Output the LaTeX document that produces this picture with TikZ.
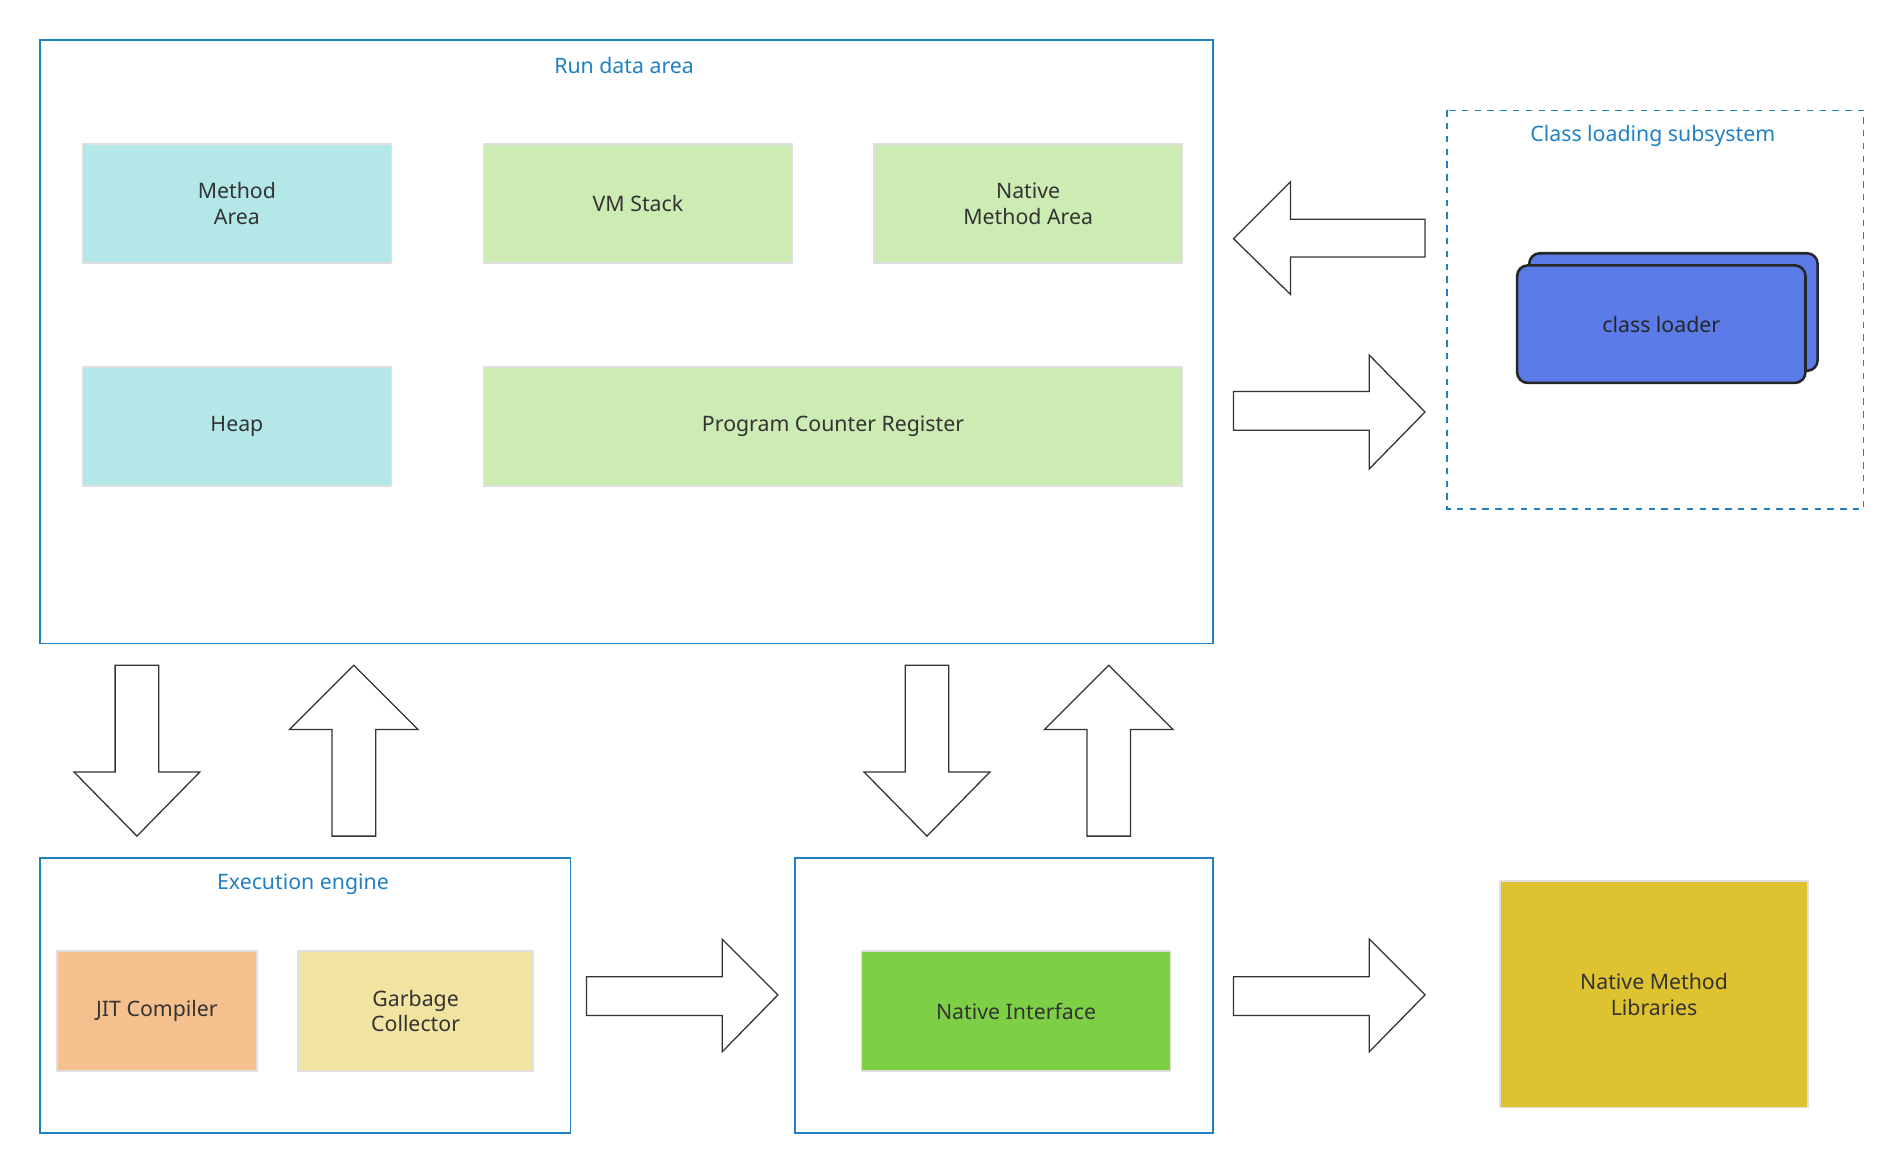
\documentclass[tikz,border=0pt]{standalone}
\usepackage{fontspec}
\setmainfont{Noto Sans}
\begin{document}
\begin{tikzpicture}[x=0.02cm,y=-0.02cm,
  font=\fontsize{10}{12}\selectfont,
  blu/.style={draw=frameblue,line width=0.7pt},
  ttl/.style={text=frameblue,anchor=center},
  box/.style={draw=black!12,line width=0.8pt,text=black!80,align=center},
  arr/.style={draw=black!80,fill=white,line width=0.6pt,line join=miter}]
\definecolor{frameblue}{HTML}{1F80C4}
\definecolor{cyanb}{HTML}{B4E8E8}
\definecolor{greenb}{HTML}{CDECB4}
\definecolor{loader}{HTML}{5B7BE8}
\definecolor{jit}{HTML}{F4C08E}
\definecolor{gc}{HTML}{F1E3A0}
\definecolor{ni}{HTML}{7DD045}
\definecolor{nml}{HTML}{DFC22F}
\useasboundingbox (0,0) rectangle (1568,965);
% Run data area
\draw[blu] (33,33) rectangle (1001,531);
\node[ttl] (rda) at (515,54) {Run data area};
\node[box,fill=cyanb,minimum width=5.1cm,minimum height=1.96cm] (ma) at (195.5,168) {Method\\Area};
\node[box,fill=greenb,minimum width=5.1cm,minimum height=1.96cm] (vm) at (526.5,168) {VM Stack};
\node[box,fill=greenb,minimum width=5.1cm,minimum height=1.96cm] (nma) at (848.5,168) {Native\\Method Area};
\node[box,fill=cyanb,minimum width=5.1cm,minimum height=1.96cm] (heap) at (195.5,352) {Heap};
\node[box,fill=greenb,minimum width=11.54cm,minimum height=1.96cm] (pcr) at (687.5,352) {Program Counter Register};
% Class loading subsystem
\draw[blu,dashed] (1194,91) rectangle (1538,420);
\node[ttl] (cls) at (1364,112) {Class loading subsystem};
\draw[fill=loader,draw=black!85,line width=1.2pt,rounded corners=5pt] (1262,209) rectangle (1500,306);
\node[draw=black!85,fill=loader,line width=1.2pt,rounded corners=5pt,minimum width=4.76cm,minimum height=1.94cm,text=black!85] (cl) at (1371,267.5) {class loader};
% side arrows
\draw[arr] (1018,197) -- (1065,150) -- (1065,181) -- (1176,181) -- (1176,212) -- (1065,212) -- (1065,243) -- cycle;
\draw[arr] (1018,323) -- (1130,323) -- (1130,293) -- (1176,340) -- (1130,387) -- (1130,355) -- (1018,355) -- cycle;
% down arrows
\foreach \c in {113,765}{
 \draw[arr] (\c-18,549) -- (\c+18,549) -- (\c+18,637) -- (\c+52,637) -- (\c,690) -- (\c-52,637) -- (\c-18,637) -- cycle;}
% up arrows
\foreach \c in {292,915}{
 \draw[arr] (\c-18,690) -- (\c+18,690) -- (\c+18,602) -- (\c+53,602) -- (\c,549) -- (\c-53,602) -- (\c-18,602) -- cycle;}
% Execution engine
\draw[blu] (33,708) rectangle (471,935);
\node[ttl] (ee) at (250,730) {Execution engine};
\node[box,fill=jit,minimum width=3.3cm,minimum height=1.98cm] (jit) at (129.5,834.5) {JIT Compiler};
\node[box,fill=gc,minimum width=3.88cm,minimum height=1.98cm] (gcol) at (343,834.5) {Garbage\\Collector};
% Native interface
\draw[blu] (656,708) rectangle (1001,935);
\node[box,fill=ni,minimum width=5.1cm,minimum height=1.98cm] (nif) at (838.5,834.5) {Native Interface};
% bottom right arrows
\foreach \s in {484,1018}{
 \draw[arr] (\s,806) -- (\s+112,806) -- (\s+112,775) -- (\s+158,821) -- (\s+112,868) -- (\s+112,838) -- (\s,838) -- cycle;}
\node[box,fill=nml,minimum width=5.08cm,minimum height=3.74cm] (lib) at (1365,820.5) {Native Method\\Libraries};
\end{tikzpicture}
\end{document}
